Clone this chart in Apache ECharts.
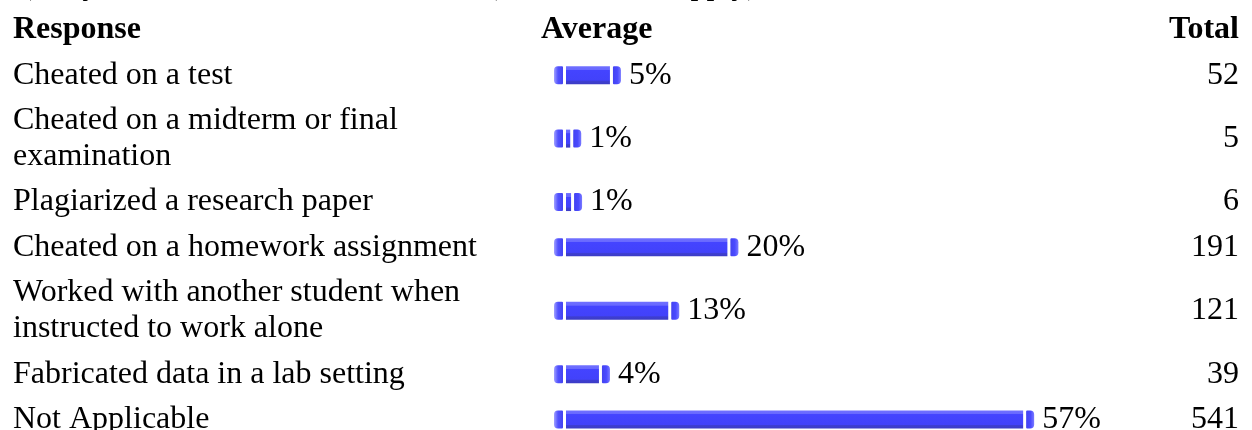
<!DOCTYPE html>
<html><head><meta charset="utf-8">
<script src="https://cdn.jsdelivr.net/npm/echarts@6/dist/echarts.min.js"></script>
<style>html,body{margin:0;padding:0;background:#fff}#c{width:1252px;height:430px}</style>
</head><body><div id="c"></div>
<script>
const questionStart = "1) In your studies, which of these";
const questionEnd = "(check all that apply)";
const headers = ["Response", "Average", "Total"];
const responses = [
  "Cheated on a test",
  "Cheated on a midterm or final\nexamination",
  "Plagiarized a research paper",
  "Cheated on a homework assignment",
  "Worked with another student when\ninstructed to work alone",
  "Fabricated data in a lab setting",
  "Not Applicable"
];
const averages = [5, 1, 1, 20, 13, 4, 57];
const totals = [52, 5, 6, 191, 121, 39, 541];

const FONT = '"Liberation Serif", "Times New Roman", serif';
const LINE_H = 36.3, PAD = 9, HEADER_H = 49.5, TEXT_DY = 3;

// row layout from number of label lines
let cursor = HEADER_H;
const rows = responses.map((r, i) => {
  const h = PAD + r.split('\n').length * LINE_H;
  const c = cursor + h / 2;
  cursor += h;
  return [totals[i], c, i];
});

const chart = echarts.init(document.getElementById('c'), null, {renderer: 'canvas'});
const G = echarts.graphic;
const mainFill = new G.LinearGradient(0, 0, 0, 1, [
  {offset: 0, color: '#7070ff'}, {offset: 0.2, color: '#6868ff'},
  {offset: 0.22, color: '#4444ff'}, {offset: 0.78, color: '#4242fa'},
  {offset: 0.83, color: '#3e3ed2'}, {offset: 1, color: '#3c3cc4'}
]);
const leftFill = new G.LinearGradient(0, 0, 1, 0, [
  {offset: 0, color: '#a0a0ff'}, {offset: 0.45, color: '#5252ff'}, {offset: 1, color: '#4343f0'}
]);
const rightFill = new G.LinearGradient(0, 0, 1, 0, [
  {offset: 0, color: '#4343f0'}, {offset: 0.55, color: '#4a4aff'}, {offset: 1, color: '#7a7aff'}
]);

chart.setOption({
  animation: false,
  grid: {left: 566, right: 10, top: 0, bottom: 0},
  xAxis: {type: 'value', min: 0, max: 800, show: false},
  yAxis: {type: 'value', min: 0, max: 430, inverse: true, show: false},
  graphic: [
    {type: 'text', left: 13, top: -30, style: {text: questionStart, font: '32px ' + FONT, fill: '#000'}},
    {type: 'text', left: 487, top: -30, style: {text: questionEnd, font: '32px ' + FONT, fill: '#000'}},
    {type: 'text', x: 13, y: 30, style: {text: headers[0], font: 'bold 32px ' + FONT, fill: '#000', verticalAlign: 'middle'}},
    {type: 'text', x: 541, y: 30, style: {text: headers[1], font: 'bold 32px ' + FONT, fill: '#000', verticalAlign: 'middle'}},
    {type: 'text', x: 1239, y: 30, style: {text: headers[2], font: 'bold 32px ' + FONT, fill: '#000', align: 'right', verticalAlign: 'middle'}}
  ],
  series: [{
    type: 'custom',
    data: rows,
    encode: {x: 0, y: 1},
    clip: false,
    renderItem: function (params, api) {
      const cnt = api.value(0), yc = api.value(1), i = api.value(2);
      const p0 = api.coord([0, yc]);
      const p1 = api.coord([cnt, yc]);
      const bottom = p0[1] + 12, top = bottom - 18;
      const ty = p0[1] + TEXT_DY;
      return {
        type: 'group',
        children: [
          {type: 'text', style: {x: 13, y: ty, text: responses[i], font: '32px ' + FONT, fill: '#000', verticalAlign: 'middle', lineHeight: LINE_H}},
          {type: 'rect', shape: {x: p0[0] - 12, y: top, width: 9, height: 18, r: [4, 1, 1, 4]}, style: {fill: leftFill}},
          {type: 'rect', shape: {x: p0[0], y: top, width: Math.max(p1[0] - p0[0], 1), height: 18}, style: {fill: mainFill}},
          {type: 'rect', shape: {x: p1[0] + 3, y: top, width: 8, height: 18, r: [1, 4, 4, 1]}, style: {fill: rightFill}},
          {type: 'text', style: {x: p1[0] + 19, y: ty, text: averages[i] + '%', font: '32px ' + FONT, fill: '#000', verticalAlign: 'middle'}},
          {type: 'text', style: {x: 1239, y: ty, text: String(totals[i]), font: '32px ' + FONT, fill: '#000', align: 'right', verticalAlign: 'middle'}}
        ]
      };
    }
  }]
});
</script></body></html>
